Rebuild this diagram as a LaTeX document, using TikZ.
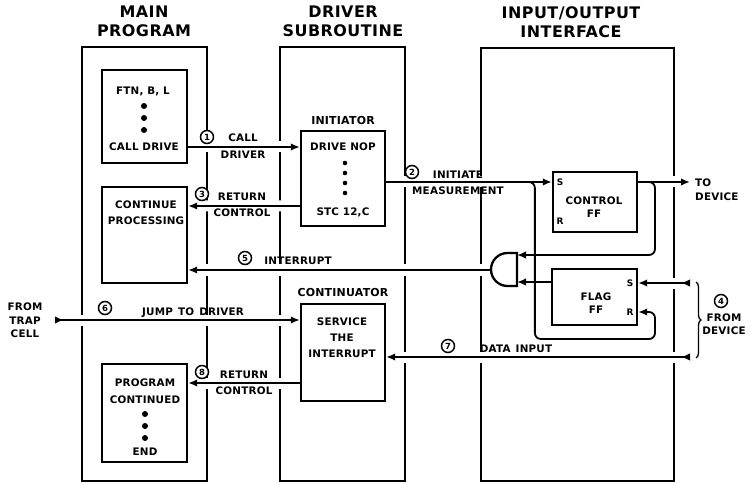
\documentclass[tikz,border=0pt]{standalone}
\usepackage{fontspec}
\setmainfont{DejaVu Sans}[LetterSpace=2]
\newfontfamily\headfont{DejaVu Sans}[LetterSpace=3]
\newfontfamily\numfont{DejaVu Sans}
\usetikzlibrary{arrows.meta,calc,decorations.pathreplacing}
\pgfdeclarelayer{top}
\pgfsetlayers{main,top}

\begin{document}
\begin{tikzpicture}[x=1bp, y=-1bp, >={Latex[length=9bp,width=7.5bp]},
    column/.style={draw, line width=2.8bp, inner sep=0pt, minimum height=434bp},
    blk/.style={draw, line width=2.3bp, fill=white, inner sep=0pt, minimum width=85bp},
    hdr/.style={align=center, font=\headfont\bfseries\fontsize{16}{19}\selectfont},
    lbl/.style={align=center, inner sep=1bp, font=\bfseries\fontsize{10.4}{#1}\selectfont},
    lbl/.default=16,
    sml/.style={inner sep=0pt, font=\bfseries\fontsize{9}{10}\selectfont},
    num/.style={circle, draw, fill=white, line width=1.5bp, inner sep=0pt, minimum size=13bp,
        font=\numfont\bfseries\fontsize{8.5}{8.5}\selectfont},
    link/.style={draw, line width=1.8bp, ->},
    xlink/.style={link, preaction={draw=white, line width=11bp, -}}]
    \useasboundingbox (0,0) rectangle (751,484);

    \begin{pgfonlayer}{top}
    \node[hdr] (hmain) at (144,21) {MAIN\\PROGRAM};
    \node[hdr] (hdrv) at (343,21) {DRIVER\\SUBROUTINE};
    \node[hdr] (hio) at (571,22) {INPUT/OUTPUT\\INTERFACE};

    \node[blk, minimum height=93bp] (ftn) at (144.5,116.5) {};
    \node[lbl] (ftntxt) at (143,91) {FTN, B, L};
    \node[lbl] (calltxt) at (144,147) {CALL DRIVE};
    \foreach \y in {106,118,130} \fill (144,\y) circle (3);

    \node[blk, minimum height=96bp] (goon) at (144.5,235) {};
    \node[lbl] (goontxt) at (146,212.5) {CONTINUE\\PROCESSING};

    \node[blk, minimum height=98bp] (progend) at (144.5,413) {};
    \node[lbl] (pgm) at (145,383) {PROGRAM};
    \node[lbl] (pgmc) at (145,400) {CONTINUED};
    \foreach \y in {414,426,438} \fill (145,\y) circle (3);
    \node[lbl] (endtxt) at (145,452) {END};

    \node[blk, minimum width=84bp, minimum height=95bp] (init) at (343,178.5) {};
    \node[lbl, font=\bfseries\fontsize{11}{12}\selectfont] (inittl) at (343,121) {INITIATOR};
    \node[lbl] (nop) at (343,147) {DRIVE NOP};
    \foreach \y in {163,173,183,193} \fill (345,\y) circle (2.3);
    \node[lbl] (stc) at (343,212) {STC 12,C};

    \node[blk, minimum width=84bp, minimum height=97bp] (contin) at (343,352.5) {};
    \node[lbl, font=\bfseries\fontsize{11}{12}\selectfont] (contl) at (343,293) {CONTINUATOR};
    \node[lbl] (svc) at (342,338) {SERVICE\\THE\\INTERRUPT};

    \node[blk, minimum width=84bp, minimum height=60bp] (ctrl) at (595,202) {};
    \node[sml] (cs) at (560,182) {S};
    \node[sml] (cr) at (560,221) {R};
    \node[lbl=13] (ctrltxt) at (594,207.5) {CONTROL\\FF};

    \node[blk, minimum height=56bp] (flag) at (594.5,297) {};
    \node[sml] (fs) at (630,283) {S};
    \node[sml] (fr) at (630,312) {R};
    \node[lbl=13] (flagtxt) at (596,303) {FLAG\\FF};

    \draw[line width=2.3bp, fill=white] (517,253) -- (507.5,253)
        arc[start angle=270, end angle=90, radius=16.5] -- (517,286) -- cycle;
    \coordinate (gout) at (491,270);
    \coordinate (gin1) at (517,255);
    \coordinate (gin2) at (517,282);

    \node[num] (n1) at (207,137) {1};
    \node[num] (n2) at (412,172) {2};
    \node[num] (n3) at (202,194) {3};
    \node[num] (n4) at (721,301) {4};
    \node[num] (n5) at (245,258) {5};
    \node[num] (n6) at (105,308) {6};
    \node[num] (n7) at (448,346) {7};
    \node[num] (n8) at (202,372) {8};

    \node[lbl=17] (calldrv) at (243,146.5) {CALL\\DRIVER};
    \node[lbl] (ret3) at (242,205) {RETURN\\CONTROL};
    \node[lbl] (initm) at (458,183) {INITIATE\\MEASUREMENT};
    \node[lbl] (intr) at (298,261) {INTERRUPT};
    \node[lbl] (jump) at (193,313) {JUMP\enspace TO\enspace DRIVER};
    \node[lbl] (ret8) at (244,383) {RETURN\\CONTROL};
    \node[lbl] (datain) at (516,349) {DATA\enspace INPUT};
    \node[lbl=13.5] (traptxt) at (25,320.5) {FROM\\TRAP\\CELL};
    \node[lbl=14, anchor=west, align=left] (todev) at (694,190) {TO\\DEVICE};
    \node[lbl=13] (fromdev) at (724,324.5) {FROM\\DEVICE};
    \end{pgfonlayer}

    \node[column, minimum width=125bp] (mainc) at (144.5,264) {};
    \node[column, minimum width=125bp] (drvc) at (342.5,264) {};
    \node[column, minimum width=193bp, minimum height=433bp] (ioc) at (577.5,264.5) {};

    \coordinate (trap) at (55,320);
    \coordinate (todevpt) at (690,182);
    \coordinate (devS) at (690,283);
    \coordinate (devD) at (690,357);
    \coordinate (lp) at (655,339);

    \draw[xlink] (ftn.east |- calltxt) -- (init.west |- calltxt);
    \draw[xlink] ($(init.west)+(0,27.5)$) -- ($(goon.east)+(0,-29)$);
    \draw[xlink] (init.east |- cs) -- (ctrl.west |- cs);
    \draw[xlink] (ctrl.east |- cs) -- (todevpt);
    \draw[xlink] (gout) -- (goon.east |- gout);
    \draw[xlink, >->] (trap) -- (contin.west |- trap);
    \draw[xlink] (contin.west |- pgm) -- (progend.east |- pgm);
    \draw[xlink, >->] (devD) -- (contin.east |- devD);
    \draw[xlink, >->] (devS) -- (flag.east |- fs);

    \draw[link, rounded corners=6bp] ($(ctrl.east |- cs)+(8,0)$) -| ($(gin1)+(138,0)$) -- (gin1);
    \draw[link, rounded corners=6bp] ($(ctrl.west |- cs)+(-25,0)$) -- ++(8,0) |- (lp) |- (flag.east |- fr);
    \draw[link] (flag.west |- gin2) -- (gin2);

    \draw[decorate, decoration={brace, amplitude=5bp}, line width=1.3bp] (696,282) -- (696,358);
\end{tikzpicture}
\end{document}
